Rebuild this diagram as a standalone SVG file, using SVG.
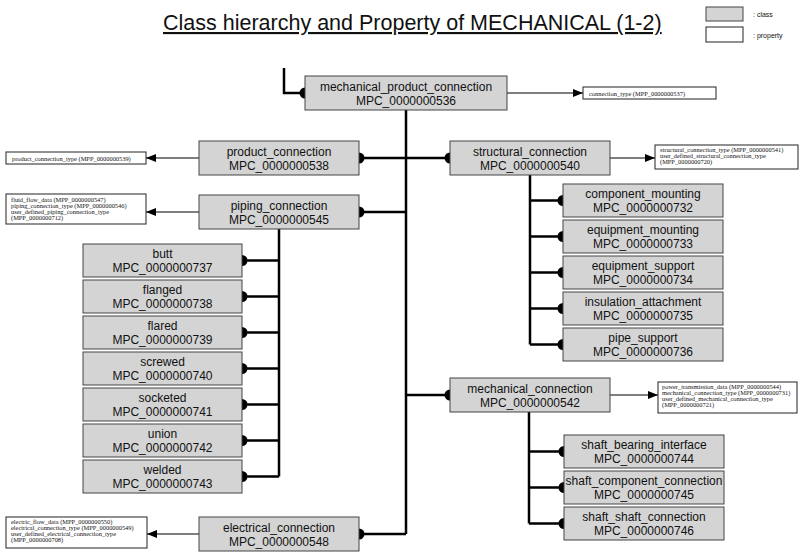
<svg xmlns="http://www.w3.org/2000/svg" width="800" height="555" viewBox="0 0 800 555">
<defs>
<marker id="ah" viewBox="0 0 10 8" refX="10" refY="4" markerWidth="10" markerHeight="8" markerUnits="userSpaceOnUse" orient="auto">
<path d="M0,0 L10,4 L0,8 Z" fill="#000"/>
</marker>
<style>
.c rect{fill:#d4d4d4;stroke:#444;stroke-width:1}
.c text{font-family:"Liberation Sans",Arial,sans-serif;font-size:12px;text-anchor:middle;fill:#111}
.p rect{fill:#fff;stroke:#222;stroke-width:1}
.p text{font-family:"Liberation Serif","Times New Roman",serif;font-size:6.4px;fill:#111}
.ln{stroke:#000;stroke-width:2.5;fill:none}
.ar{stroke:#000;stroke-width:1.2;fill:none;marker-end:url(#ah)}
.dot{fill:#000}
.lg{font-family:"Liberation Sans",Arial,sans-serif;font-size:7px;fill:#111}
</style>
</defs>
<rect width="800" height="555" fill="#fff"/>
<text x="163" y="30" font-family="Liberation Sans, Arial, sans-serif" font-size="21.5" fill="#111" text-decoration="underline">Class hierarchy and Property of MECHANICAL (1-2)</text>
<g id="legend">
<rect x="706" y="7" width="37" height="14" fill="#d4d4d4" stroke="#444"/>
<text class="lg" x="753" y="17">: class</text>
<rect x="706" y="27" width="37" height="15" fill="#fff" stroke="#222"/>
<text class="lg" x="753" y="38">: property</text>
</g>
<g id="connectors">
<path class="ln" d="M284 68V93H305"/>
<path class="ln" d="M406 110V534"/>
<path class="ln" d="M406 158H359M406 158H450M406 212H359M406 395H450M406 534H359"/>
<path class="ln" d="M279 229V476.5M279 260.5H242M279 296.5H242M279 332.5H242M279 368.5H242M279 404.5H242M279 440.5H242M279 476.5H242"/>
<path class="ln" d="M530 175V344.5M530 200.5H563M530 236.5H563M530 272.5H563M530 308.5H563M530 344.5H563"/>
<path class="ln" d="M529 412V523.5M529 451.5H564M529 487.5H564M529 523.5H564"/>
<g class="dot">
<circle cx="305" cy="93" r="5.5"/><circle cx="359" cy="158" r="5.5"/><circle cx="450" cy="158" r="5.5"/><circle cx="359" cy="212" r="5.5"/><circle cx="450" cy="395" r="5.5"/><circle cx="359" cy="534" r="5.5"/>
<circle cx="242" cy="260.5" r="5.5"/><circle cx="242" cy="296.5" r="5.5"/><circle cx="242" cy="332.5" r="5.5"/><circle cx="242" cy="368.5" r="5.5"/><circle cx="242" cy="404.5" r="5.5"/><circle cx="242" cy="440.5" r="5.5"/><circle cx="242" cy="476.5" r="5.5"/>
<circle cx="563" cy="200.5" r="5.5"/><circle cx="563" cy="236.5" r="5.5"/><circle cx="563" cy="272.5" r="5.5"/><circle cx="563" cy="308.5" r="5.5"/><circle cx="563" cy="344.5" r="5.5"/>
<circle cx="564" cy="451.5" r="5.5"/><circle cx="564" cy="487.5" r="5.5"/><circle cx="564" cy="523.5" r="5.5"/>
</g>
<path class="ar" d="M507 93H583"/>
<path class="ar" d="M199 158H146"/>
<path class="ar" d="M610 158H655"/>
<path class="ar" d="M199 212H146"/>
<path class="ar" d="M610 395H658"/>
<path class="ar" d="M199 534H147"/>
</g>
<g id="n536" class="c"><rect x="305" y="76" width="202" height="34"/><text x="406" y="91">mechanical_product_connection</text><text x="406" y="105">MPC_0000000536</text></g>
<g id="n538" class="c"><rect x="199" y="141" width="160" height="34"/><text x="279" y="156">product_connection</text><text x="279" y="170">MPC_0000000538</text></g>
<g id="n540" class="c"><rect x="450" y="141" width="160" height="34"/><text x="530" y="156">structural_connection</text><text x="530" y="170">MPC_0000000540</text></g>
<g id="n545" class="c"><rect x="199" y="195" width="160" height="34"/><text x="279" y="210">piping_connection</text><text x="279" y="224">MPC_0000000545</text></g>
<g id="n542" class="c"><rect x="450" y="378" width="160" height="34"/><text x="530" y="393">mechanical_connection</text><text x="530" y="407">MPC_0000000542</text></g>
<g id="n548" class="c"><rect x="199" y="517" width="160" height="34"/><text x="279" y="532">electrical_connection</text><text x="279" y="546">MPC_0000000548</text></g>
<g id="n737" class="c"><rect x="83" y="244" width="159" height="33"/><text x="162.5" y="258">butt</text><text x="162.5" y="272">MPC_0000000737</text></g>
<g id="n738" class="c"><rect x="83" y="280" width="159" height="33"/><text x="162.5" y="294">flanged</text><text x="162.5" y="308">MPC_0000000738</text></g>
<g id="n739" class="c"><rect x="83" y="316" width="159" height="33"/><text x="162.5" y="330">flared</text><text x="162.5" y="344">MPC_0000000739</text></g>
<g id="n740" class="c"><rect x="83" y="352" width="159" height="33"/><text x="162.5" y="366">screwed</text><text x="162.5" y="380">MPC_0000000740</text></g>
<g id="n741" class="c"><rect x="83" y="388" width="159" height="33"/><text x="162.5" y="402">socketed</text><text x="162.5" y="416">MPC_0000000741</text></g>
<g id="n742" class="c"><rect x="83" y="424" width="159" height="33"/><text x="162.5" y="438">union</text><text x="162.5" y="452">MPC_0000000742</text></g>
<g id="n743" class="c"><rect x="83" y="460" width="159" height="33"/><text x="162.5" y="474">welded</text><text x="162.5" y="488">MPC_0000000743</text></g>
<g id="n732" class="c"><rect x="563" y="184" width="160" height="33"/><text x="643" y="198">component_mounting</text><text x="643" y="212">MPC_0000000732</text></g>
<g id="n733" class="c"><rect x="563" y="220" width="160" height="33"/><text x="643" y="234">equipment_mounting</text><text x="643" y="248">MPC_0000000733</text></g>
<g id="n734" class="c"><rect x="563" y="256" width="160" height="33"/><text x="643" y="270">equipment_support</text><text x="643" y="284">MPC_0000000734</text></g>
<g id="n735" class="c"><rect x="563" y="292" width="160" height="33"/><text x="643" y="306">insulation_attachment</text><text x="643" y="320">MPC_0000000735</text></g>
<g id="n736" class="c"><rect x="563" y="328" width="160" height="33"/><text x="643" y="342">pipe_support</text><text x="643" y="356">MPC_0000000736</text></g>
<g id="n744" class="c"><rect x="564" y="435" width="160" height="33"/><text x="644" y="449">shaft_bearing_interface</text><text x="644" y="463">MPC_0000000744</text></g>
<g id="n745" class="c"><rect x="564" y="471" width="160" height="33"/><text x="644" y="485">shaft_component_connection</text><text x="644" y="499">MPC_0000000745</text></g>
<g id="n746" class="c"><rect x="564" y="507" width="160" height="33"/><text x="644" y="521">shaft_shaft_connection</text><text x="644" y="535">MPC_0000000746</text></g>
<g id="p537" class="p"><rect x="583" y="87" width="133" height="12"/><text x="589" y="95.5">connection_type (MPP_0000000537)</text></g>
<g id="p539" class="p"><rect x="6" y="152" width="140" height="12"/><text x="12" y="160.5">product_connection_type (MPP_0000000539)</text></g>
<g id="p541" class="p"><rect x="655" y="145" width="143" height="24"/><text x="660" y="152">structural_connection_type (MPP_0000000541)</text><text x="660" y="158">user_defined_structural_connection_type</text><text x="660" y="164">(MPP_0000000720)</text></g>
<g id="p547" class="p"><rect x="6" y="194" width="140" height="30"/><text x="11" y="201.5">fluid_flow_data (MPP_0000000547)</text><text x="11" y="207.5">piping_connection_type (MPP_0000000546)</text><text x="11" y="213.5">user_defined_piping_connection_type</text><text x="11" y="219.5">(MPP_0000000712)</text></g>
<g id="p544" class="p"><rect x="658" y="382" width="139" height="31"/><text x="662" y="389">power_transmission_data (MPP_0000000544)</text><text x="662" y="395">mechanical_connection_type (MPP_0000000731)</text><text x="662" y="401">user_defined_mechanical_connection_type</text><text x="662" y="407">(MPP_0000000721)</text></g>
<g id="p550" class="p"><rect x="6" y="517" width="141" height="31"/><text x="11" y="524">electric_flow_data (MPP_0000000550)</text><text x="11" y="530">electrical_connection_type (MPP_0000000549)</text><text x="11" y="536">user_defined_electrical_connection_type</text><text x="11" y="542">(MPP_0000000708)</text></g>
</svg>
